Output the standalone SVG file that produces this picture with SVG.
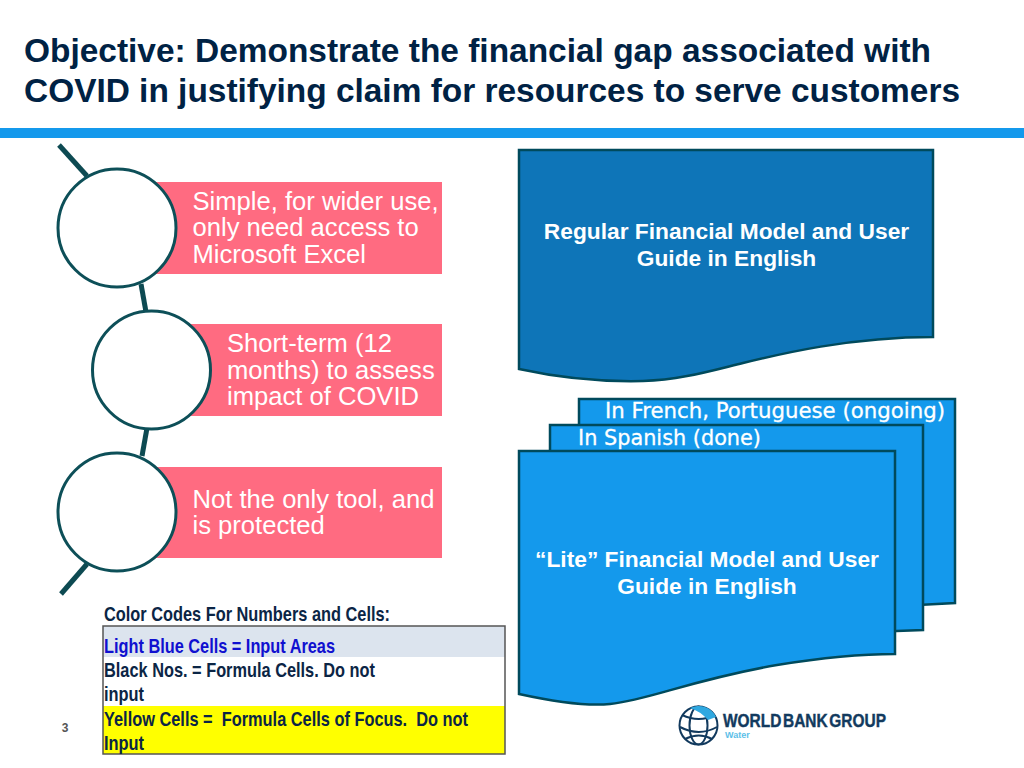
<svg xmlns="http://www.w3.org/2000/svg" width="1024" height="768" viewBox="0 0 1024 768">
<style>
text{font-family:"Liberation Sans",Arial,sans-serif}
.title{font-size:33px;font-weight:700;fill:#002244}
.pink{fill:#ff6b81}
.pt{font-size:25.600px;fill:#fff}
.circ{fill:#fff;stroke:#0d4f58;stroke-width:3}
.conn{stroke:#0d4a52;stroke-width:5;fill:none}
.doc{stroke:#004a5c;stroke-width:2.500;fill:#1499ec}
.bt{font-size:22.750px;font-weight:700;fill:#fff;text-anchor:middle}
.lang{font-family:"DejaVu Sans",sans-serif;font-size:21px;fill:#fff;stroke:#fff;stroke-width:.3}
.tb{font-size:20.500px;font-weight:700;fill:#0b2545}
</style>
<rect width="1024" height="768" fill="#fff"/>
<g id="title">
<text class="title" x="24" y="62" textLength="907" lengthAdjust="spacingAndGlyphs">Objective: Demonstrate the financial gap associated with</text>
<text class="title" x="24" y="102" textLength="936" lengthAdjust="spacingAndGlyphs">COVID in justifying claim for resources to serve customers</text>
</g>
<rect id="title-rule" x="0" y="128" width="1024" height="10" fill="#1499ec"/>
<g id="connectors">
<path class="conn" d="M59 145L87 176"/>
<path class="conn" d="M141 284L146 312"/>
<path class="conn" d="M147 428L142 456"/>
<path class="conn" d="M87 564L61 594"/>
</g>
<g id="step1">
<rect class="pink" x="150" y="182" width="292" height="92"/>
<circle class="circ" cx="117" cy="228" r="59"/>
<text class="pt" x="192.500" y="210">Simple, for wider use,</text>
<text class="pt" x="192.500" y="236">only need access to</text>
<text class="pt" x="192.500" y="262.500">Microsoft Excel</text>
</g>
<g id="step2">
<rect class="pink" x="185" y="324" width="257" height="92"/>
<circle class="circ" cx="151.500" cy="370" r="59"/>
<text class="pt" x="227" y="352">Short-term (12</text>
<text class="pt" x="227" y="379">months) to assess</text>
<text class="pt" x="227" y="405">impact of COVID</text>
</g>
<g id="step3">
<rect class="pink" x="150" y="467" width="292" height="91"/>
<circle class="circ" cx="117" cy="512" r="59"/>
<text class="pt" x="192.500" y="508">Not the only tool, and</text>
<text class="pt" x="192.500" y="534">is protected</text>
</g>
<g id="regular-doc">
<path class="doc" style="fill:#0e75b8" d="M519 150H933V337C850 337 780 354 743 363C710 371 680 380 643 381C600 382 560 378 519 369Z"/>
<text class="bt" x="726.500" y="239">Regular Financial Model and User</text>
<text class="bt" x="726.500" y="266">Guide in English</text>
</g>
<g id="french-doc">
<path class="doc" d="M579 399H955V603L900 606V440H579Z"/>
<text class="lang" x="605" y="418" textLength="340" lengthAdjust="spacingAndGlyphs">In French, Portuguese (ongoing)</text>
</g>
<g id="spanish-doc">
<path class="doc" d="M550 425H923V630L870 632V470H550Z"/>
<text class="lang" x="578" y="445" textLength="183" lengthAdjust="spacingAndGlyphs">In Spanish (done)</text>
</g>
<g id="lite-doc">
<path class="doc" d="M519 451H895V654C860 654 820 658 777 665C690 680 650 700 610 704C590 706 560 703 519 694Z"/>
<text class="bt" x="707" y="567">“Lite” Financial Model and User</text>
<text class="bt" x="707" y="594">Guide in English</text>
</g>
<g id="color-key">
<text class="tb" x="104" y="621" textLength="286" lengthAdjust="spacingAndGlyphs">Color Codes For Numbers and Cells:</text>
<rect x="103" y="626" width="402" height="128" fill="#fff"/>
<rect x="103" y="626" width="402" height="31" fill="#dce4ee"/>
<rect x="103" y="706" width="402" height="48" fill="#ffff00"/>
<rect x="103" y="626" width="402" height="128" fill="none" stroke="#555" stroke-width="1.500"/>
<text class="tb" x="104" y="653" textLength="231" lengthAdjust="spacingAndGlyphs" style="fill:#1010d0">Light Blue Cells = Input Areas</text>
<text class="tb" x="104" y="677" textLength="271" lengthAdjust="spacingAndGlyphs">Black Nos. = Formula Cells. Do not</text>
<text class="tb" x="104" y="701" textLength="40" lengthAdjust="spacingAndGlyphs">input</text>
<text class="tb" x="104" y="726" textLength="364" lengthAdjust="spacingAndGlyphs" xml:space="preserve">Yellow Cells =  Formula Cells of Focus.  Do not</text>
<text class="tb" x="104" y="750" textLength="40" lengthAdjust="spacingAndGlyphs">Input</text>
</g>
<text id="page-number" x="65" y="732" font-size="12" font-weight="700" fill="#555" text-anchor="middle">3</text>
<g id="logo">
<g fill="none" stroke="#123a5e" stroke-width="2">
<circle cx="698.500" cy="725.500" r="19"/>
<ellipse cx="698.500" cy="725.500" rx="9" ry="19"/>
<path d="M682 715Q699 723 715 715M680 727Q699 737 717 727M685 739Q699 732 712 739"/>
</g>
<path d="M690 708A19 19 0 0 1 716 717L708 720Q700 711 690 708Z" fill="#2fa8e0"/>
<text x="723" y="727" font-size="18" font-weight="700" fill="#123a5e" stroke="#123a5e" stroke-width=".4" word-spacing="-3" textLength="163" lengthAdjust="spacingAndGlyphs">WORLD BANK GROUP</text>
<text x="725" y="738" font-size="9" font-weight="700" fill="#5cc0e8">Water</text>
</g>
</svg>
